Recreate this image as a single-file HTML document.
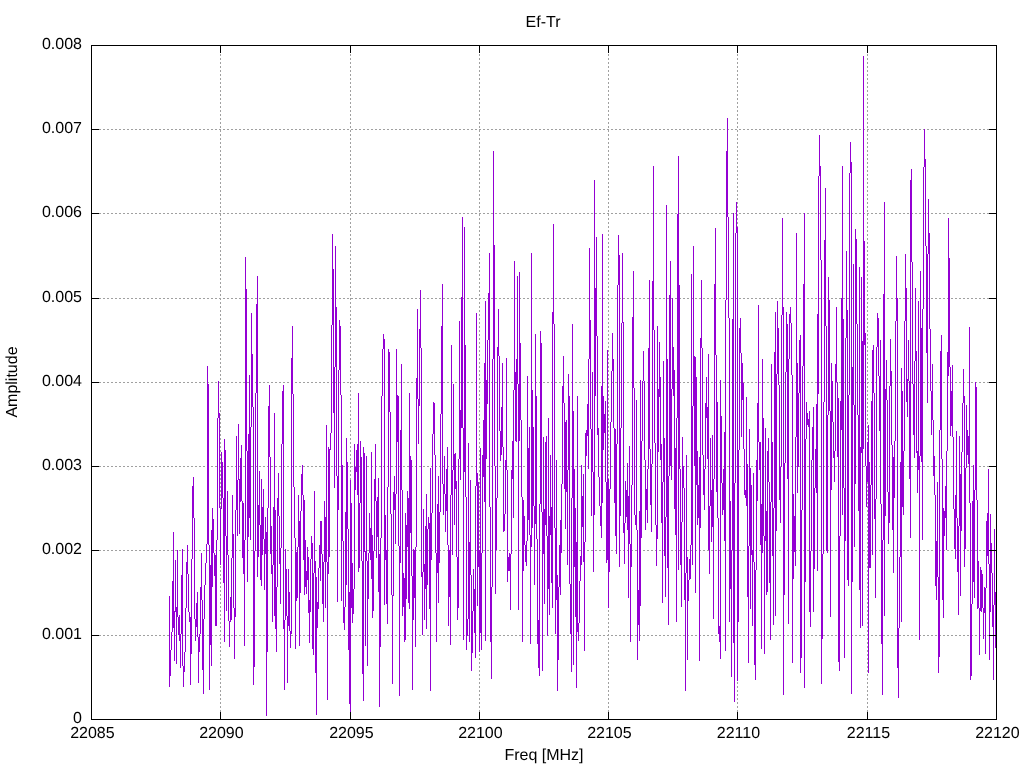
<!DOCTYPE html><html><head><meta charset="utf-8"><title>Ef-Tr</title><style>html,body{margin:0;padding:0;background:#fff;}svg{display:block}</style></head><body>
<svg width="1024" height="768" viewBox="0 0 1024 768" font-family="'Liberation Sans', Arial, sans-serif" font-size="16" fill="#000" text-rendering="geometricPrecision">
<rect width="1024" height="768" fill="#fff"/>
<path d="M220.5 46V719M350.5 46V719M479.5 46V719M608.5 46V719M737.5 46V719M867.5 46V719M91 635.5H996M91 550.5H996M91 466.5H996M91 382.5H996M91 298.5H996M91 213.5H996M91 129.5H996" stroke="#a0a0a0" stroke-width="1" stroke-dasharray="2 2" fill="none" shape-rendering="crispEdges"/>
<clipPath id="c"><rect x="91" y="45" width="906" height="675"/></clipPath>
<path clip-path="url(#c)" d="M169.5 596v91M170.5 650v26M171.5 632v18M172.5 581v51M173.5 532v96M174.5 611v50M175.5 560v52M176.5 607v57M177.5 550v67M178.5 617v18M179.5 615v26M180.5 634v34M181.5 575v59M182.5 549v117M183.5 666v21M184.5 652v20M185.5 608v44M186.5 562v46M187.5 545v29M188.5 574v38M189.5 612v10M190.5 617v68M191.5 559v95M192.5 486v73M193.5 477v41M194.5 518v101M195.5 619v22M196.5 603v24M197.5 592v45M198.5 637v46M199.5 634v18M200.5 587v47M201.5 553v47M202.5 600v70M203.5 619v75M204.5 585v34M205.5 563v22M206.5 544v19M207.5 366v178M208.5 384v161M209.5 545v145M210.5 565v80M211.5 530v136M212.5 508v79M213.5 519v34M214.5 553v23M215.5 555v71M216.5 540v86M217.5 418v122M218.5 381v37M219.5 413v95M220.5 508v57M221.5 452v57M222.5 462v36M223.5 498v85M224.5 439v203M225.5 450v86M226.5 536v75M227.5 491v64M228.5 555v66M229.5 621v26M230.5 597v25M231.5 558v62M232.5 495v63M233.5 534v74M234.5 608v51M235.5 510v107M236.5 436v74M237.5 480v56M238.5 424v56M239.5 479v55M240.5 458v44M241.5 445v56M242.5 501v57M243.5 503v71M244.5 540v106M245.5 257v283M246.5 289v162M247.5 451v131M248.5 434v103M249.5 375v143M250.5 427v113M251.5 313v114M252.5 354v53M253.5 407v278M254.5 551v116M255.5 393v158M256.5 304v89M257.5 276v301M258.5 505v52M259.5 471v54M260.5 525v55M261.5 479v107M262.5 507v48M263.5 489v50M264.5 539v51M265.5 517v37M266.5 532v184M267.5 508v144M268.5 406v102M269.5 385v72M270.5 457v97M271.5 526v48M272.5 565v57M273.5 507v58M274.5 413v203M275.5 510v119M276.5 587v65M277.5 498v89M278.5 473v43M279.5 516v48M280.5 548v56M281.5 444v104M282.5 391v53M283.5 385v244M284.5 620v70M285.5 549v71M286.5 569v47M287.5 616v67M288.5 569v57M289.5 592v39M290.5 631v17M291.5 358v276M292.5 326v68M293.5 394v93M294.5 487v51M295.5 538v111M296.5 552v49M297.5 547v51M298.5 495v52M299.5 521v125M300.5 511v82M301.5 474v37M302.5 465v30M303.5 495v65M304.5 500v95M305.5 540v47M306.5 571v23M307.5 547v33M308.5 557v56M309.5 600v43M310.5 559v53M311.5 536v23M312.5 543v106M313.5 573v82M314.5 491v82M315.5 561v112M316.5 577v138M317.5 602v26M318.5 568v41M319.5 545v23M320.5 521v60M321.5 521v33M322.5 554v50M323.5 562v60M324.5 501v61M325.5 517v91M326.5 425v137M327.5 562v138M328.5 447v127M329.5 449v108M330.5 433v17M331.5 325v108M332.5 234v91M333.5 269v144M334.5 367v121M335.5 246v121M336.5 307v169M337.5 476v126M338.5 370v140M339.5 320v50M340.5 326v69M341.5 395v206M342.5 465v76M343.5 541v82M344.5 607v23M345.5 512v95M346.5 438v147M347.5 462v67M348.5 529v121M349.5 592v112M350.5 480v232M351.5 503v105M352.5 563v60M353.5 589v25M354.5 444v145M355.5 467v23M356.5 450v22M357.5 444v51M358.5 393v179M359.5 503v65M360.5 441v62M361.5 457v104M362.5 561v113M363.5 447v254M364.5 453v99M365.5 551v95M366.5 456v105M367.5 561v105M368.5 553v46M369.5 513v40M370.5 528v32M371.5 452v127M372.5 535v83M373.5 551v60M374.5 479v72M375.5 444v57M376.5 501v57M377.5 497v40M378.5 478v114M379.5 554v153M380.5 538v109M381.5 396v142M382.5 349v47M383.5 334v15M384.5 339v266M385.5 515v45M386.5 550v54M387.5 487v137M388.5 349v138M389.5 352v60M390.5 412v102M391.5 514v81M392.5 595v89M393.5 492v104M394.5 476v34M395.5 494v50M396.5 349v145M397.5 395v47M398.5 396v150M399.5 546v150M400.5 430v133M401.5 364v126M402.5 490v126M403.5 573v34M404.5 578v64M405.5 513v127M406.5 525v74M407.5 491v56M408.5 498v105M409.5 393v216M410.5 456v77M411.5 460v116M412.5 576v114M413.5 549v71M414.5 550v48M415.5 547v100M416.5 378v169M417.5 309v90M418.5 399v45M419.5 329v77M420.5 290v58M421.5 348v229M422.5 572v63M423.5 509v63M424.5 564v56M425.5 526v63M426.5 494v135M427.5 529v56M428.5 517v12M429.5 523v86M430.5 468v223M431.5 513v47M432.5 434v79M433.5 402v32M434.5 403v52M435.5 455v98M436.5 553v89M437.5 504v69M438.5 476v127M439.5 512v51M440.5 414v98M441.5 326v88M442.5 284v200M443.5 484v31M444.5 456v38M445.5 494v38M446.5 469v42M447.5 447v98M448.5 545v81M449.5 550v47M450.5 495v150M451.5 345v150M452.5 470v85M453.5 384v86M454.5 454v71M455.5 453v36M456.5 481v76M457.5 557v63M458.5 459v149M459.5 321v138M460.5 410v70M461.5 297v131M462.5 217v211M463.5 428v212M464.5 227v245M465.5 345v152M466.5 497v153M467.5 619v17M468.5 443v176M469.5 542v100M470.5 480v95M471.5 575v96M472.5 611v42M473.5 569v42M474.5 589v44M475.5 486v172M476.5 313v173M477.5 473v133M478.5 482v85M479.5 550v102M480.5 448v185M481.5 553v97M482.5 455v98M483.5 420v57M484.5 363v139M485.5 301v340M486.5 380v79M487.5 340v64M488.5 293v47M489.5 253v254M490.5 507v135M491.5 587v92M492.5 359v228M493.5 151v208M494.5 245v221M495.5 466v128M496.5 498v52M497.5 347v151M498.5 309v47M499.5 356v75M500.5 431v30M501.5 407v48M502.5 363v84M503.5 447v85M504.5 514v17M505.5 460v54M506.5 358v112M507.5 470v112M508.5 557v14M509.5 553v18M510.5 554v56M511.5 470v84M512.5 441v38M513.5 390v128M514.5 261v129M515.5 372v69M516.5 359v83M517.5 276v108M518.5 384v226M519.5 272v169M520.5 343v77M521.5 420v77M522.5 497v145M523.5 500v71M524.5 516v29M525.5 545v17M526.5 541v25M527.5 376v165M528.5 448v72M529.5 427v108M530.5 535v109M531.5 253v294M532.5 390v138M533.5 427v79M534.5 506v79M535.5 334v190M536.5 396v143M537.5 539v105M538.5 620v48M539.5 504v172M540.5 331v173M541.5 343v169M542.5 512v159M543.5 437v117M544.5 509v95M545.5 442v83M546.5 436v100M547.5 536v100M548.5 418v171M549.5 516v99M550.5 455v80M551.5 507v76M552.5 312v296M553.5 224v100M554.5 324v204M555.5 528v106M556.5 460v140M557.5 575v116M558.5 587v73M559.5 545v42M560.5 520v75M561.5 484v69M562.5 386v98M563.5 356v47M564.5 403v86M565.5 422v107M566.5 420v72M567.5 470v95M568.5 374v96M569.5 396v188M570.5 584v50M571.5 498v174M572.5 324v174M573.5 411v254M574.5 469v98M575.5 508v109M576.5 542v146M577.5 396v236M578.5 623v18M579.5 581v42M580.5 556v25M581.5 465v100M582.5 496v31M583.5 474v88M584.5 542v109M585.5 433v109M586.5 430v26M587.5 404v32M588.5 359v110M589.5 248v111M590.5 320v109M591.5 429v87M592.5 372v100M593.5 472v100M594.5 180v335M595.5 288v108M596.5 237v99M597.5 336v99M598.5 428v49M599.5 477v29M600.5 506v20M601.5 386v152M602.5 234v269M603.5 396v54M604.5 414v19M605.5 401v81M606.5 482v81M607.5 350v210M608.5 479v129M609.5 489v83M610.5 422v67M611.5 371v51M612.5 333v38M613.5 359v69M614.5 428v75M615.5 429v107M616.5 444v110M617.5 285v159M618.5 235v50M619.5 255v312M620.5 428v88M621.5 323v105M622.5 253v70M623.5 322v211M624.5 523v41M625.5 481v42M626.5 490v27M627.5 463v67M628.5 496v102M629.5 446v98M630.5 544v98M631.5 485v82M632.5 317v168M633.5 271v117M634.5 388v127M635.5 515v10M636.5 400v130M637.5 530v130M638.5 590v35M639.5 511v130M640.5 380v226M641.5 441v97M642.5 381v60M643.5 351v30M644.5 381v79M645.5 460v70M646.5 489v21M647.5 469v54M648.5 348v121M649.5 280v169M650.5 449v56M651.5 464v68M652.5 281v183M653.5 166v164M654.5 330v113M655.5 443v82M656.5 525v41M657.5 326v213M658.5 389v63M659.5 342v55M660.5 377v83M661.5 444v79M662.5 482v121M663.5 361v121M664.5 438v118M665.5 517v80M666.5 205v312M667.5 359v209M668.5 476v149M669.5 295v181M670.5 261v205M671.5 389v91M672.5 298v91M673.5 347v49M674.5 370v139M675.5 448v87M676.5 418v204M677.5 214v204M678.5 156v414M679.5 285v184M680.5 469v96M681.5 522v85M682.5 437v85M683.5 466v22M684.5 488v112M685.5 573v118M686.5 455v118M687.5 557v103M688.5 580v21M689.5 559v21M690.5 545v34M691.5 274v271M692.5 406v159M693.5 246v160M694.5 356v110M695.5 357v236M696.5 377v108M697.5 451v74M698.5 485v33M699.5 457v204M700.5 338v190M701.5 280v68M702.5 348v107M703.5 455v40M704.5 469v41M705.5 403v66M706.5 377v41M707.5 407v52M708.5 354v196M709.5 506v68M710.5 438v68M711.5 490v52M712.5 435v92M713.5 479v140M714.5 284v195M715.5 228v127M716.5 355v137M717.5 402v116M718.5 518v116M719.5 626v16M720.5 380v279M721.5 416v67M722.5 483v32M723.5 469v41M724.5 432v109M725.5 300v351M726.5 151v149M727.5 118v99M728.5 217v101M729.5 318v304M730.5 501v88M731.5 550v127M732.5 319v231M733.5 213v430M734.5 483v219M735.5 233v250M736.5 202v31M737.5 227v454M738.5 450v172M739.5 328v122M740.5 318v35M741.5 353v84M742.5 363v37M743.5 383v66M744.5 449v46M745.5 490v8M746.5 397v109M747.5 464v133M748.5 546v117M749.5 429v117M750.5 468v141M751.5 485v70M752.5 550v76M753.5 473v89M754.5 562v103M755.5 570v110M756.5 460v110M757.5 403v98M758.5 305v137M759.5 442v28M760.5 442v103M761.5 504v145M762.5 359v194M763.5 418v118M764.5 536v118M765.5 428v113M766.5 511v84M767.5 451v141M768.5 438v44M769.5 482v101M770.5 502v138M771.5 364v138M772.5 442v114M773.5 508v117M774.5 352v156M775.5 312v304M776.5 374v157M777.5 301v73M778.5 328v57M779.5 385v115M780.5 467v56M781.5 315v152M782.5 218v97M783.5 307v388M784.5 463v132M785.5 372v91M786.5 312v60M787.5 324v155M788.5 359v265M789.5 314v45M790.5 307v16M791.5 323v52M792.5 375v288M793.5 494v85M794.5 516v36M795.5 437v129M796.5 233v204M797.5 363v130M798.5 393v74M799.5 340v53M800.5 335v338M801.5 510v148M802.5 366v144M803.5 284v82M804.5 213v475M805.5 439v143M806.5 402v37M807.5 413v12M808.5 419v8M809.5 411v201M810.5 551v76M811.5 460v91M812.5 427v33M813.5 407v205M814.5 488v81M815.5 449v39M816.5 404v89M817.5 314v257M818.5 176v218M819.5 135v41M820.5 166v94M821.5 260v424M822.5 554v85M823.5 402v152M824.5 240v162M825.5 188v138M826.5 326v225M827.5 415v138M828.5 277v138M829.5 300v111M830.5 411v206M831.5 363v127M832.5 381v41M833.5 422v36M834.5 451v31M835.5 364v87M836.5 307v75M837.5 382v75M838.5 398v264M839.5 536v135M840.5 401v135M841.5 298v132M842.5 166v349M843.5 319v169M844.5 488v170M845.5 338v203M846.5 251v87M847.5 310v270M848.5 395v191M849.5 173v222M850.5 142v31M851.5 162v532M852.5 367v215M853.5 264v141M854.5 405v142M855.5 229v255M856.5 239v85M857.5 324v91M858.5 415v96M859.5 267v323M860.5 447v181M861.5 277v176M862.5 341v285M863.5 56v393M864.5 241v104M865.5 333v133M866.5 466v41M867.5 442v40M868.5 425v248M869.5 462v106M870.5 485v83M871.5 401v84M872.5 350v205M873.5 345v48M874.5 393v126M875.5 499v99M876.5 347v152M877.5 313v34M878.5 318v58M879.5 376v55M880.5 340v164M881.5 504v140M882.5 540v155M883.5 294v246M884.5 202v414M885.5 389v127M886.5 360v40M887.5 400v92M888.5 492v52M889.5 386v137M890.5 339v47M891.5 371v74M892.5 445v85M893.5 457v116M894.5 441v57M895.5 321v120M896.5 256v65M897.5 298v370M898.5 628v70M899.5 557v71M900.5 462v95M901.5 368v254M902.5 391v116M903.5 451v64M904.5 321v130M905.5 254v67M906.5 288v114M907.5 379v38M908.5 340v41M909.5 381v98M910.5 180v358M911.5 169v93M912.5 262v122M913.5 384v51M914.5 361v97M915.5 288v73M916.5 351v102M917.5 451v42M918.5 301v169M919.5 456v184M920.5 271v185M921.5 328v134M922.5 309v231M923.5 167v142M924.5 129v38M925.5 159v87M926.5 246v107M927.5 254v149M928.5 199v55M929.5 233v96M930.5 329v62M931.5 391v44M932.5 364v56M933.5 420v56M934.5 456v39M935.5 495v91M936.5 541v59M937.5 482v95M938.5 577v96M939.5 430v227M940.5 351v79M941.5 335v124M942.5 459v141M943.5 508v110M944.5 511v25M945.5 486v32M946.5 451v99M947.5 352v99M948.5 218v158M949.5 258v109M950.5 367v69M951.5 391v35M952.5 365v72M953.5 437v72M954.5 509v40M955.5 495v64M956.5 431v87M957.5 518v54M958.5 526v89M959.5 436v90M960.5 474v122M961.5 452v79M962.5 403v49M963.5 369v34M964.5 396v171M965.5 468v81M966.5 405v63M967.5 430v25M968.5 436v28M969.5 327v176M970.5 503v177M971.5 604v72M972.5 501v103M973.5 465v117M974.5 490v108M975.5 382v108M976.5 387v113M977.5 500v109M978.5 561v47M979.5 608v47M980.5 567v44M981.5 570v42M982.5 574v34M983.5 608v31M984.5 587v26M985.5 588v66M986.5 521v67M987.5 513v43M988.5 469v95M989.5 564v96M990.5 514v98M991.5 543v30M992.5 573v54M993.5 605v75M994.5 529v76M995.5 592v56" stroke="#9400d3" stroke-width="1" fill="none" shape-rendering="crispEdges"/>
<path d="M91.5 45.5H996.5V719.5H91.5ZM220.5 712v7M220.5 46v7M350.5 712v7M350.5 46v7M479.5 712v7M479.5 46v7M608.5 712v7M608.5 46v7M737.5 712v7M737.5 46v7M867.5 712v7M867.5 46v7M92 635.5h7M989 635.5h7M92 550.5h7M989 550.5h7M92 466.5h7M989 466.5h7M92 382.5h7M989 382.5h7M92 298.5h7M989 298.5h7M92 213.5h7M989 213.5h7M92 129.5h7M989 129.5h7" stroke="#000" stroke-width="1" fill="none" shape-rendering="crispEdges"/>
<text transform="translate(82,723) scale(1.0,1.0)" text-anchor="end">0</text>
<text transform="translate(82,639) scale(1.0,1.0)" text-anchor="end">0.001</text>
<text transform="translate(82,554) scale(1.0,1.0)" text-anchor="end">0.002</text>
<text transform="translate(82,470) scale(1.0,1.0)" text-anchor="end">0.003</text>
<text transform="translate(82,386) scale(1.0,1.0)" text-anchor="end">0.004</text>
<text transform="translate(82,302) scale(1.0,1.0)" text-anchor="end">0.005</text>
<text transform="translate(82,217) scale(1.0,1.0)" text-anchor="end">0.006</text>
<text transform="translate(82,133) scale(1.0,1.0)" text-anchor="end">0.007</text>
<text transform="translate(82,49) scale(1.0,1.0)" text-anchor="end">0.008</text>
<text transform="translate(92.4,738) scale(1.0,1.0)" text-anchor="middle">22085</text>
<text transform="translate(221.4,738) scale(1.0,1.0)" text-anchor="middle">22090</text>
<text transform="translate(351.4,738) scale(1.0,1.0)" text-anchor="middle">22095</text>
<text transform="translate(480.4,738) scale(1.0,1.0)" text-anchor="middle">22100</text>
<text transform="translate(609.4,738) scale(1.0,1.0)" text-anchor="middle">22105</text>
<text transform="translate(738.4,738) scale(1.0,1.0)" text-anchor="middle">22110</text>
<text transform="translate(868.4,738) scale(1.0,1.0)" text-anchor="middle">22115</text>
<text transform="translate(997.4,738) scale(1.0,1.0)" text-anchor="middle">22120</text>
<text transform="translate(543,27) scale(1.0,1.0)" text-anchor="middle">Ef-Tr</text>
<text transform="translate(544,760) scale(1.0,1.0)" text-anchor="middle">Freq [MHz]</text>
<text transform="translate(17,382) rotate(-90) scale(1.0,1.0)" text-anchor="middle">Amplitude</text>
</svg></body></html>
